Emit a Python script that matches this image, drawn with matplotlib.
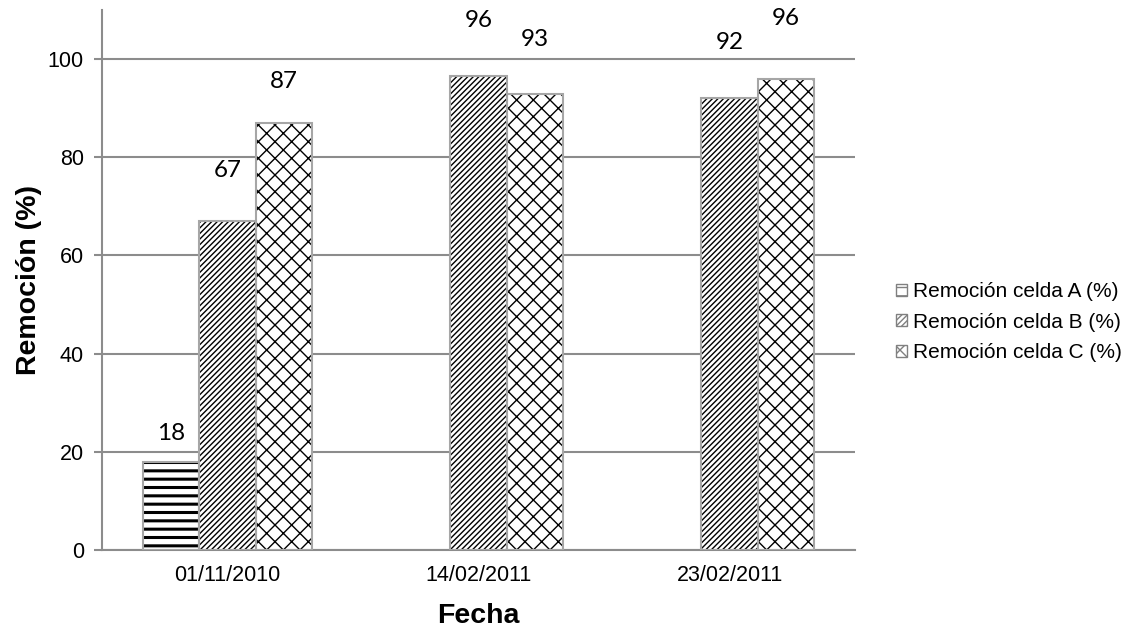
import numpy as np
import matplotlib
matplotlib.use('Agg')
import matplotlib.pyplot as plt
from matplotlib.patches import Patch

# data
fechas = ['01/11/2010', '14/02/2011', '23/02/2011']
celda_a = [18, np.nan, np.nan]
celda_b = [67, 96.5, 92]
celda_c = [87, 93, 96]
series_names = ['Remoción celda A (%)', 'Remoción celda B (%)', 'Remoción celda C (%)']

# styling
hatches = ['--', '//////', 'xx']
label_offsets_px = [[28, None, None], [51, 56, 56], [41, 54, 60]]

plt.rcParams['font.family'] = ['Liberation Sans', 'DejaVu Sans']
plt.rcParams['hatch.linewidth'] = 1.0

fig = plt.figure(figsize=(11.3, 6.3), dpi=100)
ax = fig.add_axes([0.0903, 0.127, 0.6664, 0.857])

x = np.arange(len(fechas))
width = 0.225
series = [celda_a, celda_b, celda_c]

for i, vals in enumerate(series):
    pos = x + (i - 1) * width
    # hatch drawn in black, outline in gray on top
    bars = ax.bar(pos, vals, width, color='white', edgecolor='black',
                  hatch=hatches[i], linewidth=0, zorder=2)
    if i == 0:
        for b in bars:
            try:
                b.set_hatch_linewidth(2.2)
            except AttributeError:
                pass
    ax.bar(pos, vals, width, color='none', edgecolor='#a6a6a6',
           linewidth=1.5, zorder=3)
    for j, v in enumerate(vals):
        if np.isnan(v):
            continue
        ax.annotate(f'{v:.0f}', (pos[j], v), xytext=(0, label_offsets_px[i][j]),
                    textcoords='offset pixels', ha='center', va='center',
                    fontsize=17.5, family=['Lato', 'DejaVu Sans'])

ax.set_xlim(-0.5, 2.5)
ax.set_ylim(0, 110)
ax.set_yticks(np.arange(0, 101, 20))
ax.set_xticks(x)
ax.set_xticklabels(fechas)
ax.tick_params(axis='x', length=0, labelsize=15.5, pad=11)
ax.tick_params(axis='y', length=6, width=1.5, color='#8c8c8c', labelsize=15.5, pad=7)
ax.yaxis.grid(True, color='#8c8c8c', linewidth=1.5, zorder=0)
ax.set_axisbelow(True)
for s in ['top', 'right']:
    ax.spines[s].set_visible(False)
for s in ['left', 'bottom']:
    ax.spines[s].set_color('#8c8c8c')
    ax.spines[s].set_linewidth(1.5)

ax.set_ylabel('Remoción (%)', fontsize=20.5, fontweight='bold', labelpad=4)
ax.set_xlabel('Fecha', fontsize=20.5, fontweight='bold', labelpad=12)

handles = [Patch(facecolor='white', edgecolor='#808080', hatch=h) for h in hatches]
leg = ax.legend(handles, series_names, loc='center left', bbox_to_anchor=(1.03, 0.422),
                frameon=False, fontsize=15, handlelength=0.5, handleheight=0.5,
                handletextpad=0.3, labelspacing=0.55)

fig.savefig('out.png', dpi=100)
